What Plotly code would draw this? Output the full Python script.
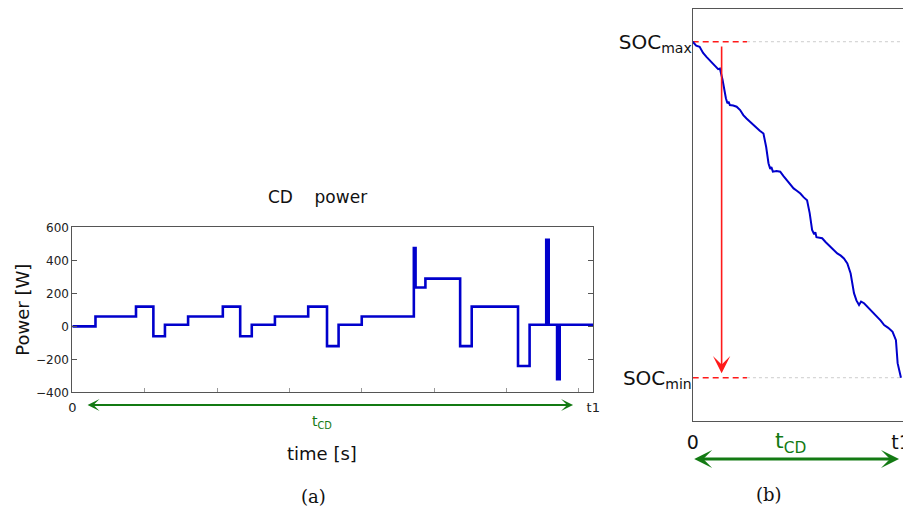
import plotly.graph_objects as go

# ---------------- data: panel (a) CD power profile ----------------
power_t = [0, 160, 440, 560, 640, 800, 1040, 1160, 1240, 1400, 1630, 1760, 1840,
           2000, 2360, 2372, 2440, 2680, 2760, 3080, 3160, 3275, 3292, 3350, 3368, 3600]
power_w = [0, 60, 120, -60, 10, 60, 120, -60, 10, 60, 120, -120, 10,
           60, 475, 236, 290, -120, 120, -240, 10, 525, 10, -320, 10, 10]

# ---------------- data: panel (b) SOC trajectory ----------------
soc_t = [0, 60, 120, 180, 238, 300, 383, 440, 470, 516, 574, 600, 620, 643, 700, 760,
         820, 875, 930, 991, 1050, 1108, 1160, 1223, 1270, 1310, 1340, 1360, 1386, 1450,
         1513, 1570, 1629, 1690, 1744, 1800, 1861, 1920, 1977, 2022, 2064, 2100, 2120,
         2139, 2238, 2300, 2383, 2440, 2499, 2560, 2614, 2673, 2730, 2788, 2830, 2875,
         2910, 2962, 3020, 3078, 3140, 3195, 3250, 3309, 3380, 3455, 3513, 3542, 3575, 3600]
soc_v = [0.900, 0.893, 0.891, 0.880, 0.873, 0.866, 0.858, 0.851, 0.852, 0.832, 0.799,
         0.790, 0.793, 0.787, 0.786, 0.784, 0.778, 0.769, 0.763, 0.757, 0.750, 0.745,
         0.741, 0.736, 0.712, 0.683, 0.673, 0.676, 0.668, 0.669, 0.668, 0.660, 0.653,
         0.645, 0.638, 0.634, 0.629, 0.622, 0.617, 0.594, 0.564, 0.556, 0.560, 0.551,
         0.549, 0.542, 0.534, 0.528, 0.522, 0.518, 0.513, 0.504, 0.486, 0.451, 0.438,
         0.430, 0.436, 0.433, 0.427, 0.421, 0.415, 0.409, 0.402, 0.394, 0.389, 0.382,
         0.367, 0.326, 0.310, 0.300]

T1 = 3600
SOC_MAX = 0.9
SOC_MIN = 0.3
x_ticks_a = [0, 500, 1000, 1500, 2000, 2500, 3000, 3500, 3600]
x_ticktext_a = ["0", "", "", "", "", "", "", "", "t1"]
y_ticks_a = [-400, -200, 0, 200, 400, 600]

# annotation anchors (x in data units, y in paper fraction below the axes)
ARROW_A = dict(t0=95, t1=3460, y=0.2074)
TCD_A = dict(t=1726, y=0.174)
RED_T = 500
RED_Y0, RED_Y1 = 0.894, 0.308
DASH_END = 938
ARROW_B = dict(t0=0, t1=3566, y=0.1018)
TCD_B = dict(t=1699, y=0.134)

BLUE = "#0000cc"
GREEN = "#137a13"
RED = "#ff1a1a"
AX = "#555555"
FONT = "DejaVu Sans"

fig = go.Figure()

# panel (a)
fig.add_trace(go.Scatter(x=power_t, y=power_w, mode="lines", line_shape="hv",
                         line=dict(color=BLUE, width=2.6), xaxis="x", yaxis="y",
                         showlegend=False))

# panel (b)
X_END_B = 3635
fig.add_trace(go.Scatter(x=[DASH_END, X_END_B], y=[SOC_MAX, SOC_MAX], mode="lines",
                         line=dict(color="#cccccc", width=1, dash="dot"),
                         xaxis="x2", yaxis="y2", showlegend=False))
fig.add_trace(go.Scatter(x=[DASH_END, X_END_B], y=[SOC_MIN, SOC_MIN], mode="lines",
                         line=dict(color="#cccccc", width=1, dash="dot"),
                         xaxis="x2", yaxis="y2", showlegend=False))
fig.add_trace(go.Scatter(x=[0, DASH_END], y=[SOC_MAX, SOC_MAX], mode="lines",
                         line=dict(color=RED, width=1.6, dash="6px,4px"),
                         xaxis="x2", yaxis="y2", showlegend=False))
fig.add_trace(go.Scatter(x=[0, DASH_END], y=[SOC_MIN, SOC_MIN], mode="lines",
                         line=dict(color=RED, width=1.6, dash="6px,4px"),
                         xaxis="x2", yaxis="y2", showlegend=False))
fig.add_trace(go.Scatter(x=soc_t, y=soc_v, mode="lines",
                         line=dict(color=BLUE, width=2), xaxis="x2", yaxis="y2",
                         showlegend=False))

annotations = [
    # panel (a) texts
    dict(text="CD\u00a0\u00a0\u00a0\u00a0power", xref="paper", yref="paper", x=0.3516, y=0.6145,
         showarrow=False, font=dict(size=17, color="#111111"), xanchor="center", yanchor="middle"),
    dict(text="Power [W]", xref="paper", yref="paper", x=0.0255, y=0.394, textangle=-90,
         showarrow=False, font=dict(size=18, color="#111111"), xanchor="center", yanchor="middle"),
    dict(text="time [s]", xref="paper", yref="paper", x=0.3566, y=0.1135,
         showarrow=False, font=dict(size=18, color="#111111"), xanchor="center", yanchor="middle"),
    dict(text="t<sub>CD</sub>", xref="x", yref="paper", x=TCD_A["t"], y=TCD_A["y"],
         showarrow=False, font=dict(size=14, color=GREEN), xanchor="center", yanchor="middle"),
    dict(text="", xref="x", yref="paper", axref="x", ayref="pixel",
         x=ARROW_A["t1"], y=ARROW_A["y"], ax=ARROW_A["t0"], ay=0,
         showarrow=True, arrowhead=3, startarrowhead=3, arrowside="end+start",
         arrowwidth=2, arrowsize=1, startarrowsize=1, arrowcolor=GREEN),
    dict(text="(a)", xref="paper", yref="paper", x=0.3477, y=0.028,
         showarrow=False, font=dict(size=18, color="#111111", family="DejaVu Serif"),
         xanchor="center", yanchor="middle"),
    # panel (b) texts
    dict(text="t<sub>CD</sub>", xref="x2", yref="paper", x=TCD_B["t"], y=TCD_B["y"],
         showarrow=False, font=dict(size=22, color=GREEN), xanchor="center", yanchor="middle"),
    dict(text="", xref="x2", yref="paper", axref="x2", ayref="pixel",
         x=ARROW_B["t1"], y=ARROW_B["y"], ax=ARROW_B["t0"], ay=0,
         showarrow=True, arrowhead=3, startarrowhead=3, arrowside="end+start",
         arrowwidth=3, arrowsize=1, startarrowsize=1, arrowcolor=GREEN),
    dict(text="", xref="x2", yref="y2", axref="x2", ayref="y2",
         x=RED_T, y=RED_Y1, ax=RED_T, ay=RED_Y0,
         showarrow=True, arrowhead=3, arrowwidth=1.6, arrowsize=1.8, arrowcolor=RED),
    dict(text="(b)", xref="paper", yref="paper", x=0.8516, y=0.033,
         showarrow=False, font=dict(size=18, color="#111111", family="DejaVu Serif"),
         xanchor="center", yanchor="middle"),
]

fig.update_layout(
    width=903, height=511,
    margin=dict(l=0, r=0, t=0, b=0, autoexpand=False),
    paper_bgcolor="white", plot_bgcolor="white",
    font=dict(family=FONT, color="#222222"),
    showlegend=False,
    xaxis=dict(domain=[0.0801, 0.6570], range=[0, T1], tickvals=x_ticks_a,
               ticktext=x_ticktext_a, ticks="inside", ticklen=4, tickcolor="#999999",
               showline=True, linecolor=AX, linewidth=1, mirror=True,
               showgrid=False, zeroline=False, tickfont=dict(size=13, color="#222222"),
               ticklabelstandoff=3, automargin=False, fixedrange=True),
    yaxis=dict(domain=[0.2323, 0.5548], range=[-400, 600], tickvals=y_ticks_a,
               ticks="inside", ticklen=5, tickcolor=AX,
               showline=True, linecolor=AX, linewidth=1, mirror="ticks",
               showgrid=False, zeroline=False, tickfont=dict(size=12, color="#222222"),
               automargin=False, fixedrange=True),
    xaxis2=dict(domain=[0.7671, 1.0], range=[0, X_END_B], anchor="y2",
                tickvals=[0, T1], ticktext=["0", "t1"], ticks="",
                showline=True, linecolor=AX, linewidth=1, mirror=True,
                showgrid=False, zeroline=False, tickfont=dict(size=19, color="#111111"),
                ticklabelstandoff=4, ticklabeloverflow="allow", automargin=False,
                fixedrange=True),
    yaxis2=dict(domain=[0.1761, 0.9818], range=[0.2227, 0.9579], anchor="x2",
                tickvals=[SOC_MIN, SOC_MAX],
                ticktext=["SOC<sub>min</sub>", "SOC<sub>max</sub>"], ticks="",
                showline=True, linecolor=AX, linewidth=1, mirror=False,
                showgrid=False, zeroline=False, tickfont=dict(size=20, color="#111111"),
                ticklabelstandoff=-4, automargin=False, fixedrange=True),
    annotations=annotations,
)

fig.write_html("out.html", config={"displayModeBar": False})
